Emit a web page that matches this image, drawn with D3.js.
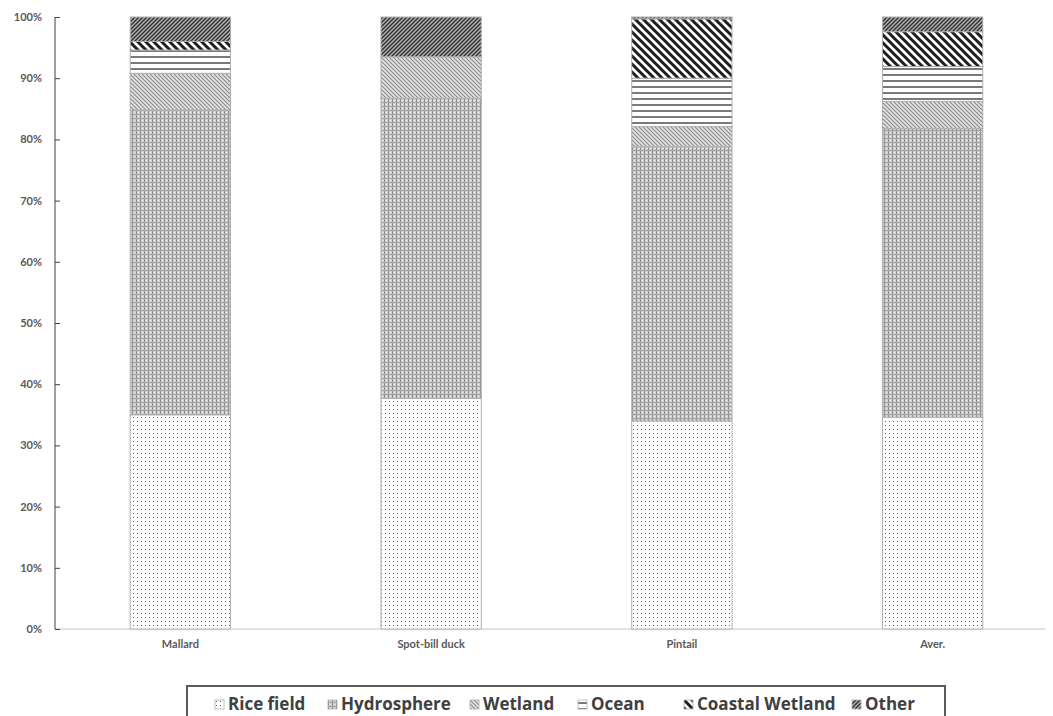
<!DOCTYPE html>
<html><head><meta charset="utf-8">
<script src="https://cdn.jsdelivr.net/npm/d3@7/dist/d3.min.js"></script>
<style>body{margin:0;background:#fff}svg{display:block}</style>
</head><body><svg id="c" width="1053" height="716"></svg>
<script>
const categories = ["Mallard", "Spot-bill duck", "Pintail", "Aver."];
const seriesNames = ["Rice field", "Hydrosphere", "Wetland", "Ocean", "Coastal Wetland", "Other"];
const riceField = [35.0, 37.7, 34.0, 34.6];
const hydrosphere = [49.8, 49.0, 44.8, 47.2];
const wetland = [6.0, 6.8, 3.3, 4.4];
const ocean = [3.8, 0.0, 7.9, 5.7];
const coastalWetland = [1.4, 0.0, 9.7, 5.7];
const other = [4.0, 6.5, 0.3, 2.4];
const yTicks = [0, 10, 20, 30, 40, 50, 60, 70, 80, 90, 100];

const seriesValues = [riceField, hydrosphere, wetland, ocean, coastalWetland, other];
const rows = categories.map((c, i) => {
  const r = {cat: c};
  seriesNames.forEach((s, j) => r[s] = seriesValues[j][i]);
  return r;
});

const svg = d3.select("#c");
const defs = svg.append("defs");
const pid = ["p0","p1","p2","p3","p4","p5"];

// Rice field: sparse dots
let p = defs.append("pattern").attr("id","p0").attr("width",4).attr("height",4).attr("patternUnits","userSpaceOnUse");
p.append("rect").attr("width",4).attr("height",4).attr("fill","#fff");
p.append("rect").attr("x",1).attr("y",1).attr("width",1).attr("height",1).attr("fill","#666");
// Hydrosphere: dense grey grid
p = defs.append("pattern").attr("id","p1").attr("width",4).attr("height",4).attr("patternUnits","userSpaceOnUse");
p.append("rect").attr("width",4).attr("height",4).attr("fill","#cfcfcf");
p.append("rect").attr("x",0).attr("y",0).attr("width",1).attr("height",4).attr("fill","#8f8f8f");
p.append("rect").attr("x",0).attr("y",2).attr("width",4).attr("height",1).attr("fill","#a3a3a3");
p.append("rect").attr("x",2).attr("y",0).attr("width",1).attr("height",1).attr("fill","#ececec");
// Wetland: light "\" thin
p = defs.append("pattern").attr("id","p2").attr("width",4).attr("height",4).attr("patternUnits","userSpaceOnUse");
p.append("rect").attr("width",4).attr("height",4).attr("fill","#e6e6e6");
p.append("path").attr("d","M-1,-1L5,5M-1,3L1,5M3,-1L5,1").attr("stroke","#8a8a8a").attr("stroke-width",1.2);
// Ocean: horizontal lines
p = defs.append("pattern").attr("id","p3").attr("width",6).attr("height",6).attr("patternUnits","userSpaceOnUse");
p.append("rect").attr("width",6).attr("height",6).attr("fill","#fff");
p.append("rect").attr("x",0).attr("y",2).attr("width",6).attr("height",2).attr("fill","#7a7a7a");
// Coastal wetland: thick dark "\"
p = defs.append("pattern").attr("id","p4").attr("width",8).attr("height",8).attr("patternUnits","userSpaceOnUse");
p.append("rect").attr("width",8).attr("height",8).attr("fill","#fff");
p.append("path").attr("d","M-2,-2L10,10M-2,6L2,10M6,-2L10,2").attr("stroke","#1e1e1e").attr("stroke-width",3);
// Other: dense dark "/"
p = defs.append("pattern").attr("id","p5").attr("width",4).attr("height",4).attr("patternUnits","userSpaceOnUse");
p.append("rect").attr("width",4).attr("height",4).attr("fill","#b5b5b5");
p.append("path").attr("d","M-1,5L5,-1M-1,1L1,-1M3,5L5,3").attr("stroke","#333").attr("stroke-width",1.5);

const x = d3.scaleBand().domain(categories).range([55, 1058]).paddingInner(0.6).paddingOuter(0.3);
const y = d3.scaleLinear().domain([0, 100]).range([629, 17]);

const stack = d3.stack().keys(seriesNames)(rows);

// baseline
svg.append("line").attr("x1",55).attr("x2",1045).attr("y1",y(0)).attr("y2",y(0)).attr("stroke","#d9d9d9").attr("stroke-width",1.5);

// bars
stack.forEach((layer, j) => {
  svg.append("g").selectAll("rect").data(layer.filter(d => d[1]-d[0] > 0)).join("rect")
    .attr("x", d => x(d.data.cat))
    .attr("width", x.bandwidth())
    .attr("y", d => y(d[1]))
    .attr("height", d => y(d[0]) - y(d[1]))
    .attr("fill", `url(#${pid[j]})`)
    .attr("stroke", "#b0b0b0").attr("stroke-width", 1);
});

// y axis
const yAxis = svg.append("g").attr("transform","translate(55,0)")
  .call(d3.axisLeft(y).tickValues(yTicks).tickFormat(d => d + "%").tickSize(-5).tickPadding(13));
yAxis.select(".domain").attr("stroke","#404040").attr("d", `M0,${y(0)}V${y(100)}`);
yAxis.selectAll(".tick line").attr("stroke","#404040");
yAxis.selectAll("text").attr("fill","#595959").style("font-family","Lato, 'Liberation Sans', sans-serif").style("font-weight","bold").style("font-size","11px");

// x labels
const xAxis = svg.append("g").attr("transform",`translate(0,${y(0)})`)
  .call(d3.axisBottom(x).tickSize(0).tickPadding(11));
xAxis.select(".domain").remove();
xAxis.selectAll("text").attr("fill","#595959").style("font-family","Lato, 'Liberation Sans', sans-serif").style("font-weight","bold").style("font-size","11px");

// legend
const lg = svg.append("g");
lg.append("rect").attr("x",187).attr("y",686).attr("width",758).attr("height",50).attr("fill","none").attr("stroke","#5a5a5a").attr("stroke-width",2);
const legendX = [215, 328, 470, 578, 684, 852];
seriesNames.forEach((s, j) => {
  const g = lg.append("g").attr("transform", `translate(${legendX[j]},700)`);
  g.append("rect").attr("width",9).attr("height",9).attr("fill",`url(#${pid[j]})`).attr("stroke","#b0b0b0").attr("stroke-width",0.8);
  g.append("text").attr("x",13).attr("y",10).text(s)
    .attr("fill","#404040").style("font-family","'Open Sans', sans-serif").style("font-weight","bold").style("font-size","17px");
});
</script></body></html>
